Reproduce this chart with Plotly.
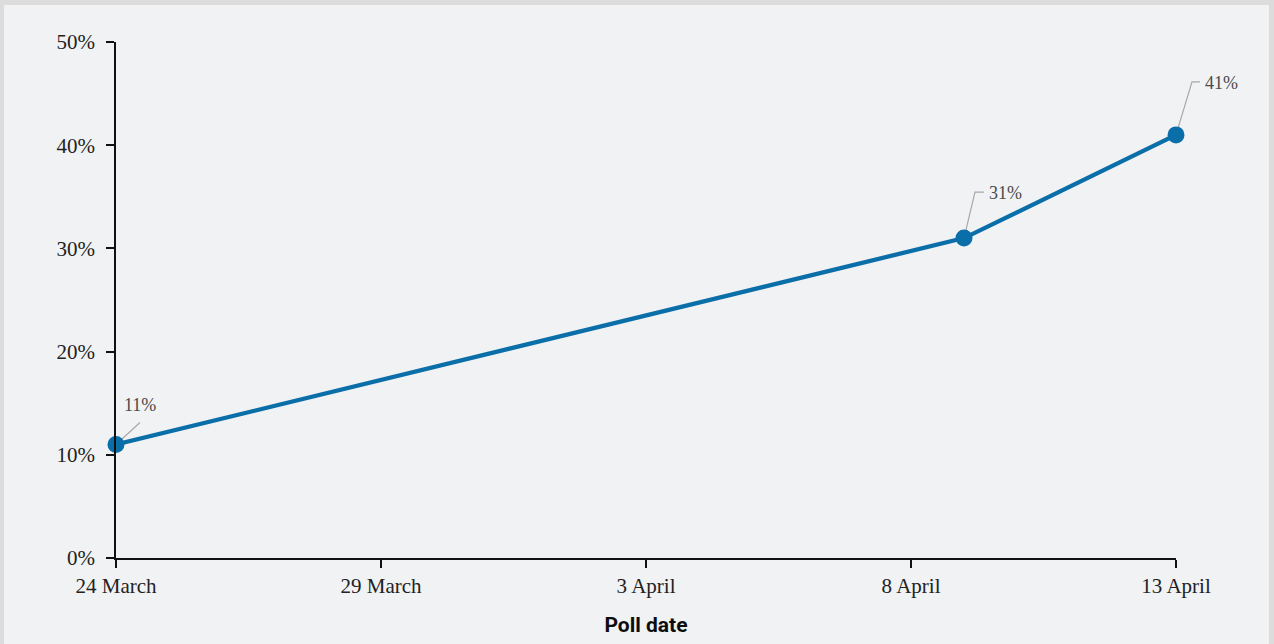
import plotly.graph_objects as go
import pandas as pd

# Poll results
poll_dates = ["2020-03-24", "2020-04-09", "2020-04-13"]
support_pct = [11, 31, 41]
point_labels = ["11%", "31%", "41%"]

# Axis ticks
x_tick_vals = ["2020-03-24", "2020-03-29", "2020-04-03", "2020-04-08", "2020-04-13"]
x_tick_text = ["24 March", "29 March", "3 April", "8 April", "13 April"]
y_tick_vals = [0, 10, 20, 30, 40, 50]
y_tick_text = ["0%", "10%", "20%", "30%", "40%", "50%"]

X_RANGE = ["2020-03-24", "2020-04-13"]
Y_RANGE = [0, 50]

LINE_BLUE = "#0a6ea9"
BG = "#f1f2f4"
BORDER = "#dcdcdc"
SERIF = "Liberation Serif, Times New Roman, serif"

# leader line paths (pixel offsets from each point) and label offsets
leader_paths = ["M0,0 L24,22", "M0,0 L11,46 L20,46", "M0,0 L16,53 L24,53"]
label_shift = [(24, 39), (23, 45), (27, 52)]
label_anchor = ["center", "left", "left"]


def x_frac(d):
    t0, t1 = pd.Timestamp(X_RANGE[0]), pd.Timestamp(X_RANGE[1])
    return (pd.Timestamp(d) - t0) / (t1 - t0)


def y_frac(v):
    return (v - Y_RANGE[0]) / (Y_RANGE[1] - Y_RANGE[0])


fig = go.Figure()
fig.add_trace(go.Scatter(
    x=poll_dates, y=support_pct, mode="lines+markers",
    line=dict(color=LINE_BLUE, width=4.3),
    marker=dict(color=LINE_BLUE, size=17),
    cliponaxis=False, hoverinfo="skip", showlegend=False,
))

shapes = [dict(type="rect", xref="paper", yref="paper",
               x0=-0.1057, x1=1.0877, y0=-0.2, y1=1.0717,
               fillcolor=BG, line=dict(width=0), layer="below")]
annotations = []
for d, v, lab, path, (sx, sy), anc in zip(poll_dates, support_pct, point_labels,
                                           leader_paths, label_shift, label_anchor):
    shapes.append(dict(type="path", xref="paper", yref="paper",
                       xsizemode="pixel", ysizemode="pixel",
                       xanchor=x_frac(d), yanchor=y_frac(v), path=path,
                       line=dict(color="#a8a8a8", width=1.2), layer="below"))
    annotations.append(dict(x=d, y=v, xref="x", yref="y", text=lab, showarrow=False,
                            xshift=sx, yshift=sy, xanchor=anc, yanchor="middle",
                            font=dict(family=SERIF, size=18, color="#4a4a4a")))

fig.update_layout(
    width=1274, height=644,
    margin=dict(l=116, r=98, t=42, b=86),
    paper_bgcolor=BORDER, plot_bgcolor=BG,
    shapes=shapes, annotations=annotations,
    xaxis=dict(
        type="date", range=X_RANGE,
        tickvals=x_tick_vals, ticktext=x_tick_text,
        showgrid=False, zeroline=False,
        showline=True, linecolor="#111111", linewidth=1.5,
        ticks="outside", ticklen=8, tickcolor="#111111", tickwidth=1.5,
        tickfont=dict(family=SERIF, size=21, color="#222222"),
        title=dict(text="<b>Poll date</b>", standoff=20,
                   font=dict(family="Roboto, sans-serif", size=21, color="#0d0d0d")),
    ),
    yaxis=dict(
        range=Y_RANGE, tickvals=y_tick_vals, ticktext=y_tick_text,
        showgrid=False, zeroline=False,
        showline=True, linecolor="#111111", linewidth=1.5,
        ticks="outside", ticklen=8, tickcolor="#111111", tickwidth=1.5,
        ticklabelstandoff=7,
        tickfont=dict(family=SERIF, size=21, color="#222222"),
    ),
)

fig.write_html("out.html")
